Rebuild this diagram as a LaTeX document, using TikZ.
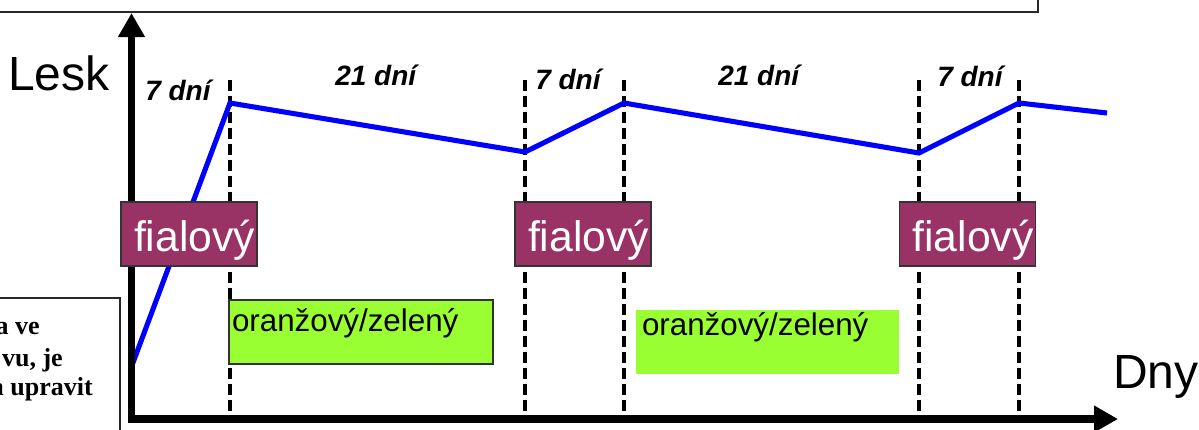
\documentclass[tikz,border=0pt]{standalone}
\usepackage{fontspec}
\setmainfont{Liberation Sans}
\newfontfamily\tnr{Liberation Serif}
\usetikzlibrary{arrows.meta}
\definecolor{plum}{RGB}{153,51,102}
\definecolor{lime}{RGB}{153,255,51}
\definecolor{frameg}{RGB}{40,40,40}
\begin{document}
\begin{tikzpicture}[x=0.75pt,y=-0.75pt,
    frame/.style={draw=frameg,line width=1.1pt},
    axis/.style={line width=5.5pt,line join=miter,arrows={Triangle[length=18pt,width=19pt]-Triangle[length=18pt,width=19pt]}},
    cut/.style={line width=2.6pt,dash pattern=on 8pt off 4pt},
    gloss/.style={draw=blue,line width=3.8pt,line join=miter},
    fial/.style={draw=black!80,fill=plum,line width=0.9pt,text=white,font=\fontsize{32}{38}\selectfont,minimum height=48pt,inner xsep=1.5pt,inner ysep=0pt,text width=99pt,align=right,text height=25.5pt,text depth=0pt},
    green/.style={fill=lime,line width=0.9pt,font=\fontsize{23.5}{28}\selectfont,align=left,minimum height=48pt,inner ysep=0pt},
    days/.style={font=\fontsize{21}{25}\selectfont\bfseries\itshape,inner sep=0pt,anchor=base west},
    axlab/.style={font=\fontsize{36}{43}\selectfont,inner sep=0pt,anchor=base west},
    note/.style={font=\tnr\bfseries\fontsize{19.5}{23}\selectfont,inner sep=0pt,anchor=base east}]
\useasboundingbox (0,0) rectangle (1199,429);
\begin{scope}
\clip (0,0) rectangle (1199,429);
\draw[frame] (-10,-10) rectangle (1038,12);
\draw[frame] (-10,298) rectangle (120,445);
\node[note] (N1) at (40,334) {a ve};
\node[note] (N2) at (63,366) {vu, je};
\node[note] (N3) at (93,395) {a upravit};
\end{scope}

\foreach \x in {230,525,624,919,1019}
    \draw[cut] (\x,80) -- (\x,419);

\draw[gloss] (131,368) -- (230,103) -- (525,152) -- (624,103) -- (919,153) -- (1019,103) -- (1107,113);

\coordinate (O) at (131.5,419);
\coordinate (Ytop) at (131.5,13);
\coordinate (Xend) at (1118,419);
\draw[axis] (Ytop) |- (Xend);

\node[fial] (F1) at (189,234) {fialový};
\node[fial] (F2) at (583,234) {fialový};
\node[fial] (F3) at (967.5,234) {fialový};

\node[green,draw=black!80,inner xsep=2.25pt,text width=193.5pt,text height=16pt,text depth=17.5pt] (G1) at (361,332) {oranžový/zelený};
\node[green,inner xsep=4.5pt,text width=188.25pt,text height=16pt,text depth=25.75pt] (G2) at (767.5,341.5) {oranžový/zelený};

\node[days] (D1) at (145,100) {7 dní};
\node[days] (D2) at (335,85) {21 dní};
\node[days] (D3) at (535,89) {7 dní};
\node[days] (D4) at (718,85) {21 dní};
\node[days] (D5) at (937,86) {7 dní};

\node[axlab] (L) at (8,90) {Lesk};
\node[axlab] (D) at (1113,388) {Dny};
\end{tikzpicture}
\end{document}
